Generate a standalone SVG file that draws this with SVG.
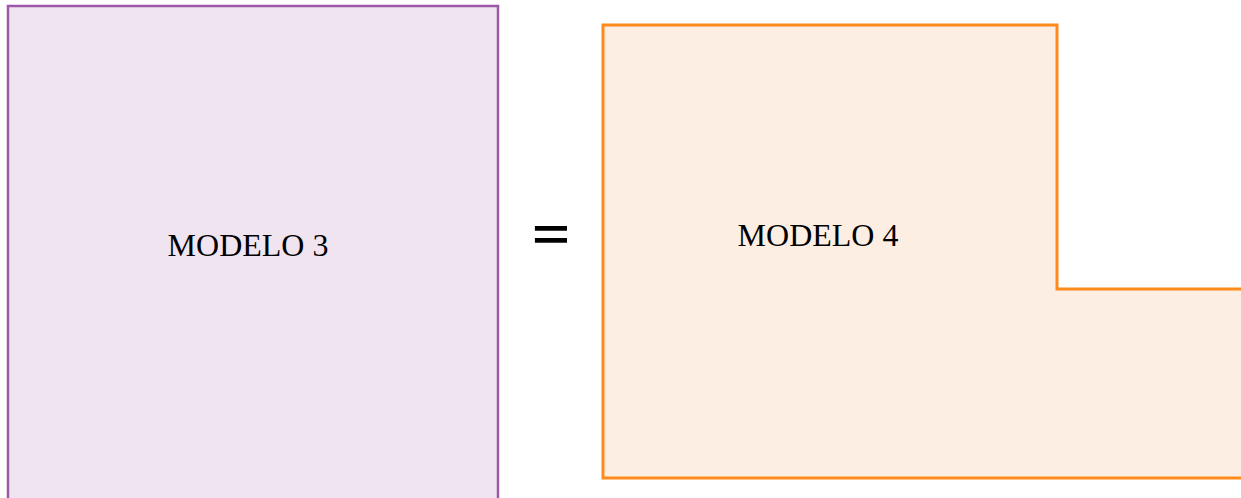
<svg xmlns="http://www.w3.org/2000/svg" width="1241" height="498" viewBox="0 0 1241 498">
<style>
.lbl{font-family:"Liberation Serif","Times New Roman",serif;font-size:32px;fill:#000;text-anchor:middle}
</style>
<rect width="1241" height="498" fill="#fff"/>
<g id="modelo3">
<rect x="8" y="6" width="490" height="500" fill="#f0e4f1" stroke="#9b59a8" stroke-width="2.5"/>
<text class="lbl" x="248" y="256">MODELO 3</text>
</g>
<g id="equals">
<text transform="translate(551,250) scale(1,0.68)" x="0" y="0" font-family="Liberation Sans, Arial, sans-serif" font-weight="bold" font-size="64" text-anchor="middle" fill="#000">=</text>
</g>
<g id="modelo4">
<path d="M603 25 H1057 V289 H1250 V478 H603 Z" fill="#fdeee3" stroke="#ff8a1c" stroke-width="3"/>
<text class="lbl" x="818" y="246">MODELO 4</text>
</g>
<g id="connectors"/>
</svg>
